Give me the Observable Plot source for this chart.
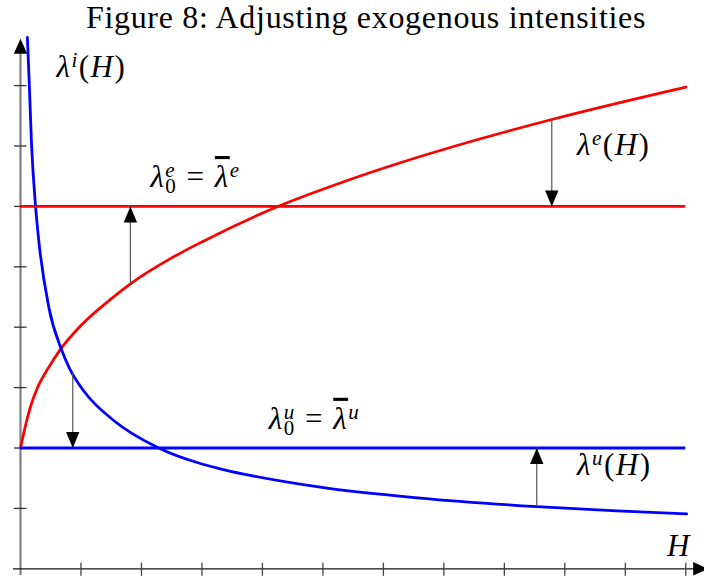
<!DOCTYPE html>
<html>
<head>
<meta charset="utf-8">
<script src="https://cdn.jsdelivr.net/npm/d3@7"></script>
<script src="https://cdn.jsdelivr.net/npm/@observablehq/plot@0.6"></script>
<style>
  body { margin: 0; background: #fff; }
  #wrap { position: relative; width: 704px; }
  #title { position: relative; height: 34px; width: 704px; }
  #title span {
    position: absolute; left: 366px; top: 0; transform: translateX(-50%);
    white-space: nowrap; font-family: "Liberation Serif", serif; font-size: 32px;
    line-height: 34px; letter-spacing: 0.7px; color: #000;
  }
</style>
</head>
<body>
<div id="wrap">
  <div id="title"><span>Figure 8: Adjusting exogenous intensities</span></div>
  <div id="chart"></div>
</div>
<script>
// ---- data ----
const redCurveH = [0, 0.066, 0.104, 0.177, 0.286, 0.451, 0.672, 0.991, 1.487, 1.817, 2.478, 2.974, 4.295, 5.287, 6.278, 7.533, 8.784, 11.0];
const redCurveY = [2.0, 2.30, 2.46, 2.72, 3.01, 3.31, 3.65, 4.02, 4.461, 4.719, 5.135, 5.40, 6.015, 6.388, 6.722, 7.099, 7.439, 7.975];
const blueCurveH = [0.114, 0.145, 0.182, 0.248, 0.302, 0.468, 0.672, 0.81, 1.05, 1.541, 2.258, 2.974, 3.304, 4.956, 6.608, 8.536, 9.858, 11.014];
const blueCurveY = [8.796, 8.03, 7.04, 6.015, 5.435, 4.331, 3.642, 3.32, 2.94, 2.455, 2.013, 1.743, 1.656, 1.351, 1.17, 1.03, 0.96, 0.91];
const redLevel = 6;     // λ0^e = λ̄^e
const blueLevel = 2;    // λ0^u = λ̄^u
const levelEnd = 11.0;
const xTicks = [1, 2, 3, 4, 5, 6, 7, 8, 9, 10, 11];
const yTicks = [1, 2, 3, 4, 5, 6, 7, 8];
const xAxisStart = -0.116, xAxisTip = 11.37;
const yAxisStart = -0.11, yAxisTip = 8.775;
// arrows: position, start value (on curve), end value (on level)
const arrowH    = [1.817, 8.784, 0.864, 8.536];
const arrowFrom = [4.719, 7.439, 3.235, 1.03];
const arrowTo   = [6, 6, 2, 2];
// labels (TeX-like markup: ^ sup, _ sub, ~ overline), anchor = left baseline
const labelTex = ["λ^{i}(H)", "λ^{e}(H)", "λ_{0}^{e} = ~λ^{e}", "λ_{0}^{u} = ~λ^{u}", "λ^{u}(H)", "H"];
const labelH   = [0.595, 9.202, 2.148, 4.105, 9.202, 10.689];
const labelY   = [8.15, 6.843, 6.321, 2.318, 1.545, 0.22];

// ---- build tables ----
const redCurve = redCurveH.map((h, i) => ({H: h, y: redCurveY[i]}));
const blueCurve = blueCurveH.map((h, i) => ({H: h, y: blueCurveY[i]}));
const arrows = arrowH.map((h, i) => ({H: h, from: arrowFrom[i], to: arrowTo[i]}));
const labels = labelTex.map((t, i) => ({tex: t, H: labelH[i], y: labelY[i]}));

// ---- custom symbols (shapes only) ----
const headUp = {draw(c) { c.moveTo(0, 0); c.lineTo(6.7, 16); c.lineTo(-6.7, 16); c.closePath(); }};
const headDown = {draw(c) { c.moveTo(0, 0); c.lineTo(6.7, -16); c.lineTo(-6.7, -16); c.closePath(); }};
const axisHeadUp = {draw(c) { c.moveTo(0, 0); c.lineTo(6.7, 15); c.lineTo(-6.7, 15); c.closePath(); }};
const axisHeadRight = {draw(c) { c.moveTo(0, 0); c.lineTo(-15, -6.7); c.lineTo(-15, 6.7); c.closePath(); }};
const vTick = {draw(c) { c.moveTo(0, -6); c.lineTo(0, 7); }};
const hTick = {draw(c) { c.moveTo(-6.5, 0); c.lineTo(6, 0); }};

const LABEL_SIZE = 31;
const plot = Plot.plot({
  width: 704,
  height: 544,
  margin: 0,
  x: {domain: [0, 11], range: [20, 685.3], axis: null},
  y: {domain: [0, 8], range: [534.3, 51.1], axis: null},
  marks: [
    // axes
    Plot.ruleX([0], {y1: yAxisStart, y2: yAxisTip - 0.1, stroke: "#7f7f7f", strokeWidth: 2.2}),
    Plot.dot(yTicks, {x: 0, y: d => d, symbol: hTick, r: 5, fill: "none", stroke: "#333", strokeWidth: 1.3}),
    Plot.ruleY([0], {x1: xAxisStart, x2: xAxisTip - 0.1, stroke: "#111", strokeWidth: 1.3}),
    Plot.dot(xTicks, {x: d => d, y: 0, symbol: vTick, r: 5, fill: "none", stroke: "#444", strokeWidth: 1.3}),
    Plot.dot([yAxisTip], {x: 0, y: d => d, symbol: axisHeadUp, r: 5, fill: "black", stroke: "none"}),
    Plot.dot([xAxisTip], {x: d => d, y: 0, symbol: axisHeadRight, r: 5, fill: "black", stroke: "none"}),
    // curves and levels
    Plot.line(redCurve, {x: "H", y: "y", curve: "monotone-x", stroke: "#ff0000", strokeWidth: 2.8}),
    Plot.line(blueCurve, {x: "H", y: "y", curve: "monotone-x", stroke: "#0000ff", strokeWidth: 2.8}),
    Plot.ruleY([redLevel], {x1: 0, x2: levelEnd, stroke: "#ff0000", strokeWidth: 2.8}),
    Plot.ruleY([blueLevel], {x1: 0, x2: levelEnd, stroke: "#0000ff", strokeWidth: 2.8}),
    // adjustment arrows
    Plot.ruleX(arrows, {x: "H", y1: "from", y2: "to", stroke: "#555", strokeWidth: 1.2}),
    Plot.dot(arrows.filter(d => d.to > d.from), {x: "H", y: "to", symbol: headUp, r: 5, fill: "black", stroke: "none"}),
    Plot.dot(arrows.filter(d => d.to < d.from), {x: "H", y: "to", symbol: headDown, r: 5, fill: "black", stroke: "none"}),
    // labels
    Plot.text(labels, {x: "H", y: "y", text: d => d.tex.replace(/[\^_{}~]/g, ""),
      textAnchor: "start", lineAnchor: "bottom", fontFamily: "Liberation Serif, serif", fontSize: LABEL_SIZE, fill: "black"})
  ]
});
document.getElementById("chart").appendChild(plot);

// ---- turn the TeX-like markup into tspans (sub/superscripts, overline) ----
function parseTex(s) {
  const out = []; let i = 0; let bar = false;
  const readScript = () => {
    const t = s[i]; i++;
    let g;
    if (s[i] === "{") { const j = s.indexOf("}", i); g = s.slice(i + 1, j); i = j + 1; }
    else { g = s[i]; i++; }
    return [t, g];
  };
  while (i < s.length) {
    const c = s[i];
    if (c === "^" || c === "_") {
      let sup = null, sub = null;
      let [t, g] = readScript();
      if (t === "^") sup = g; else sub = g;
      if (s[i] === "^" || s[i] === "_") { [t, g] = readScript(); if (t === "^") sup = g; else sub = g; }
      out.push({type: "script", sup, sub});
    } else if (c === "~") {
      bar = true; i++;
    } else {
      const it = /[A-Za-z\u03bb]/.test(c);
      const last = out[out.length - 1];
      if (!bar && last && last.type === "run" && last.italic === it && !last.bar) last.text += c;
      else out.push({type: "run", text: c, italic: it, bar});
      bar = false;
      i++;
    }
  }
  return out;
}
const NS = "http://www.w3.org/2000/svg";
const SUP = -10, SUB = 6, SCRIPT_SIZE = 21;
const texts = plot.querySelectorAll('g[aria-label="text"] text');
texts.forEach((el, k) => {
  const parts = parseTex(labels[k].tex);
  while (el.firstChild) el.removeChild(el.firstChild);
  el.style.letterSpacing = "1.5px";
  let shift = 0, pendingDx = 0;
  const add = (txt, italic, size, targetShift, dx, bar) => {
    const ts = document.createElementNS(NS, "tspan");
    ts.textContent = txt;
    ts.setAttribute("font-style", italic ? "italic" : "normal");
    if (size) ts.setAttribute("font-size", size);
    if (bar) ts.style.textDecoration = "overline";
    const dy = targetShift - shift;
    if (dy) ts.setAttribute("dy", dy);
    if (dx) ts.setAttribute("dx", dx);
    shift = targetShift;
    el.appendChild(ts);
    return ts;
  };
  for (const p of parts) {
    if (p.type === "run") {
      add(p.text, p.italic, null, 0, pendingDx, p.bar); pendingDx = 0;
    } else {
      if (p.sub != null) {
        const a = add(p.sub, /[A-Za-z]/.test(p.sub), SCRIPT_SIZE, SUB, pendingDx); pendingDx = 0;
        if (p.sup != null) {
          const w = a.getComputedTextLength();
          const b = add(p.sup, /[A-Za-z]/.test(p.sup), SCRIPT_SIZE, SUP, -w);
          pendingDx = Math.max(0, w - b.getComputedTextLength());
        }
      } else {
        add(p.sup, /[A-Za-z]/.test(p.sup), SCRIPT_SIZE, SUP, pendingDx); pendingDx = 0;
      }
    }
  }
});
</script>
</body>
</html>
